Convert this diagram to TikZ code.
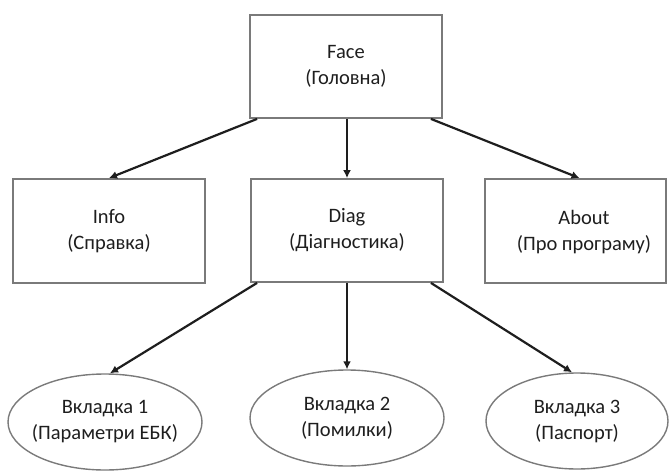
\documentclass[tikz,border=0pt]{standalone}
\usepackage{fontspec}
\setmainfont{Carlito}
\usetikzlibrary{shapes.geometric,arrows.meta}
\definecolor{framegray}{HTML}{7A7A7A}
\definecolor{inkgray}{HTML}{1E1E1E}
\begin{document}
\begin{tikzpicture}[x=1pt,y=-1pt,
  label text/.style={font=\fontsize{20.5}{26}\selectfont, text=inkgray, align=center},
  pagebox/.style={label text, draw=framegray, line width=1.8pt, rectangle, inner sep=0pt},
  tabnode/.style={label text, draw=framegray, line width=1.4pt, ellipse, inner xsep=-20pt, inner ysep=-12pt},
  link/.style={draw=inkgray, line width=2.2pt, -{Latex[length=8pt,width=8pt]}},
]
\useasboundingbox (0,0) rectangle (669,473);

% top-level page
\node[pagebox, minimum width=192pt, minimum height=103pt] (face) at (346,66.5) {Face\\(Головна)};

% second level pages
\node[pagebox, minimum width=192pt, minimum height=104pt] (info) at (109,231) {Info\\(Справка)};
\node[pagebox, minimum width=192pt, minimum height=103pt] (diag) at (347,230.5) {Diag\\(Діагностика)};
\node[pagebox, minimum width=181pt, minimum height=104pt] (about) at (575.5,231) {};
\node[label text] (abouttext) at (584,232) {About\\(Про програму)};

% tabs of the diagnostics page
\node[tabnode, minimum width=194pt, minimum height=96pt] (tab1) at (105,422) {Вкладка 1\\(Параметри ЕБК)};
\node[tabnode, minimum width=194pt, minimum height=96pt] (tab2) at (347,418) {Вкладка 2\\(Помилки)};
\node[tabnode, minimum width=182pt, minimum height=96pt] (tab3) at (577,421) {Вкладка 3\\(Паспорт)};

% navigation links
\draw[link] ([xshift=8pt]face.south west) -- (info.north);
\draw[link] (face.south -| diag.north) -- (diag.north);
\draw[link] ([xshift=-12pt]face.south east) -- ([xshift=4pt]about.north);

\draw[link] ([xshift=7pt]diag.south west) -- ([xshift=5pt]tab1.north);
\draw[link] (diag.south -| tab2.north) -- (tab2.north);
\draw[link] ([xshift=-13pt]diag.south east) -- ([xshift=-5pt]tab3.north);
\end{tikzpicture}
\end{document}
